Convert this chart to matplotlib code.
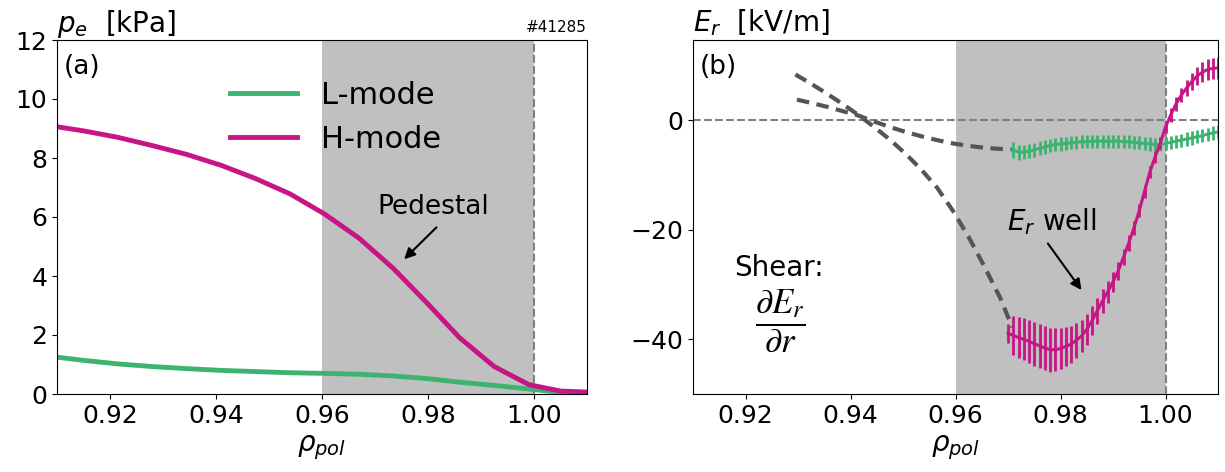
import numpy as np
import matplotlib.pyplot as plt
import matplotlib as mpl

mpl.rcParams['font.size'] = 18
mpl.rcParams['xtick.labelsize'] = 18
mpl.rcParams['ytick.labelsize'] = 18

c_L = 'mediumseagreen'
c_H = 'mediumvioletred'
c_fit = '#555555'

## Electron pressure profiles

rho_pe = [0.9085, 0.915, 0.9215, 0.928, 0.9345, 0.941, 0.9475, 0.954, 0.9605,
          0.967, 0.9735, 0.980, 0.986, 0.9925, 0.999, 1.005, 1.011]
pe_L = [1.28, 1.14, 1.02, 0.93, 0.86, 0.80, 0.76, 0.72, 0.70,
        0.67, 0.61, 0.52, 0.40, 0.29, 0.17, 0.05, 0.01]
pe_H = [9.10, 8.92, 8.70, 8.42, 8.12, 7.75, 7.30, 6.78, 6.10,
        5.28, 4.25, 3.05, 1.90, 0.93, 0.32, 0.10, 0.06]

## Radial electric field

rho_er_H = [0.970, 0.971, 0.972, 0.973, 0.974, 0.975, 0.976, 0.977, 0.978, 0.979,
            0.980, 0.981, 0.982, 0.983, 0.984, 0.985, 0.986, 0.987, 0.988, 0.989,
            0.990, 0.991, 0.992, 0.993, 0.994, 0.995, 0.996, 0.997, 0.998, 0.999,
            1.000, 1.001, 1.002, 1.003, 1.004, 1.005, 1.006, 1.007, 1.008, 1.009,
            1.010]
er_H = [-38.9, -39.3, -39.7, -40.0, -40.4, -40.8, -41.2, -41.6, -41.9, -41.9,
        -41.7, -41.3, -40.9, -40.2, -39.4, -38.2, -36.6, -34.8, -33.0, -31.3,
        -29.5, -27.5, -25.0, -22.4, -19.6, -16.5, -13.0, -9.5, -6.7, -4.2,
        -1.2, 1.0, 3.0, 4.6, 5.9, 7.1, 8.1, 8.8, 9.3, 9.5,
        9.6]
er_H_err = [1.7, 3.6, 3.7, 3.8, 3.9, 4.0, 4.0, 4.0, 4.0, 3.9,
            3.8, 3.6, 3.4, 3.2, 3.0, 2.8, 2.6, 2.4, 2.2, 2.0,
            1.8, 1.6, 1.5, 1.4, 1.3, 1.2, 1.2, 1.1, 1.1, 1.1,
            1.1, 1.2, 1.2, 1.3, 1.4, 1.5, 1.6, 1.8, 1.9, 2.0,
            2.0]

rho_er_L = [0.971, 0.972, 0.973, 0.974, 0.975, 0.976, 0.977, 0.978, 0.979, 0.980,
            0.981, 0.982, 0.983, 0.984, 0.985, 0.986, 0.987, 0.988, 0.989, 0.990,
            0.991, 0.992, 0.993, 0.994, 0.995, 0.996, 0.997, 0.998, 0.999, 1.000,
            1.001, 1.002, 1.003, 1.004, 1.005, 1.006, 1.007, 1.008, 1.009, 1.010]
er_L = [-5.4, -5.8, -5.8, -5.6, -5.4, -5.1, -4.9, -4.6, -4.4, -4.3,
        -4.2, -4.1, -4.0, -3.9, -3.9, -3.8, -3.8, -3.8, -3.8, -3.8,
        -3.8, -3.9, -3.9, -4.0, -4.1, -4.2, -4.3, -4.4, -4.4, -4.2,
        -4.0, -3.8, -3.6, -3.4, -3.2, -3.0, -2.8, -2.5, -2.3, -2.1]
er_L_err = [1.4, 1.4, 1.3, 1.3, 1.3, 1.3, 1.3, 1.2, 1.2, 1.2,
            1.2, 1.2, 1.2, 1.2, 1.2, 1.2, 1.2, 1.2, 1.2, 1.2,
            1.2, 1.2, 1.2, 1.2, 1.2, 1.2, 1.2, 1.2, 1.2, 1.2,
            1.2, 1.2, 1.2, 1.2, 1.2, 1.2, 1.2, 1.2, 1.2, 1.2]

# extrapolated fits towards the core
rho_fit_H = [0.9295, 0.9325, 0.9355, 0.9385, 0.9415, 0.9445, 0.9475, 0.9505,
             0.9535, 0.9565, 0.9595, 0.9625, 0.9655, 0.9685, 0.9708]
fit_H = [8.4, 6.7, 4.9, 3.0, 1.0, -1.2, -3.5, -6.1,
         -9.0, -12.3, -16.5, -21.3, -26.7, -32.4, -37.8]
rho_fit_L = [0.9298, 0.9325, 0.9355, 0.9385, 0.9415, 0.9445, 0.9475, 0.9505,
             0.9535, 0.9565, 0.9595, 0.9625, 0.9655, 0.9685, 0.9707]
fit_L = [3.8, 3.2, 2.5, 1.7, 0.9, -0.2, -1.2, -2.1,
         -2.9, -3.6, -4.2, -4.65, -5.0, -5.2, -5.3]

ped = (0.96, 1.0)
xlim = (0.91, 1.01)

## Plotting

fig = plt.figure(figsize=(12.25, 4.72), dpi=100)
ax1 = fig.add_axes([57/1225, 78/472, 530/1225, 354/472])
ax2 = fig.add_axes([693/1225, 78/472, 525/1225, 354/472])

arrow = dict(arrowstyle='-|>', color='k', lw=1.5, mutation_scale=16,
             shrinkA=0, shrinkB=0)

for ax in (ax1, ax2):
    ax.axvspan(*ped, color='silver', lw=0, zorder=0)
    ax.axvline(ped[1], color='gray', ls='--', lw=1.5, zorder=1)
    ax.set_xlim(xlim)
    ax.set_xticks([0.92, 0.94, 0.96, 0.98, 1.00])
    ax.set_xlabel(r'$\rho_{pol}$', fontsize=20)

# (a) pressure
ax1.plot(rho_pe, pe_L, color=c_L, lw=3.5, label='L-mode')
ax1.plot(rho_pe, pe_H, color=c_H, lw=3.5, label='H-mode')
ax1.set_ylim(0, 12)
ax1.set_yticks([0, 2, 4, 6, 8, 10, 12])
ax1.set_title(r'$p_e$  [kPa]', loc='left', fontsize=20)
ax1.set_title('#41285', loc='right', fontsize=11, pad=4)
ax1.text(0.013, 0.925, '(a)', transform=ax1.transAxes, fontsize=19, va='center')
ax1.legend(loc='upper left', bbox_to_anchor=(0.274, 0.963), frameon=False,
           fontsize=22, handlelength=2.2)
ax1.text(0.9809, 6.35, 'Pedestal', fontsize=19, ha='center', va='center')
ax1.annotate('', xy=(0.9755, 4.57), xytext=(0.9816, 5.65), arrowprops=arrow)

# (b) radial electric field
ax2.axhline(0, color='gray', ls='--', lw=1.5, zorder=1)
ax2.plot(rho_fit_L, fit_L, color=c_fit, lw=3, ls=(0, (3, 1.8)), zorder=3)
ax2.plot(rho_fit_H, fit_H, color=c_fit, lw=3, ls=(0, (3, 1.8)), zorder=3)
ax2.errorbar(rho_er_L, er_L, yerr=er_L_err, color=c_L, lw=2.2, elinewidth=2,
             capsize=0, zorder=2)
ax2.errorbar(rho_er_H, er_H, yerr=er_H_err, color=c_H, lw=2.2, elinewidth=2,
             capsize=0, zorder=2)
ax2.set_ylim(-50, 14.7)
ax2.set_yticks([-40, -20, 0])
ax2.set_title(r'$E_r$  [kV/m]', loc='left', fontsize=20)
ax2.text(0.013, 0.925, '(b)', transform=ax2.transAxes, fontsize=19, va='center')
ax2.text(0.9784, -18.4, r'$E_r$ well', fontsize=20, ha='center', va='center')
ax2.annotate('', xy=(0.984, -31.0), xytext=(0.9776, -22.5), arrowprops=arrow)
ax2.text(0.9264, -26.9, 'Shear:', fontsize=20, ha='center', va='center')
ax2.text(0.9266, -36.6, r'$\dfrac{\partial E_r}{\partial r}$', fontsize=25,
         math_fontfamily='stix', ha='center', va='center')

fig.savefig('out.png', dpi=100)
